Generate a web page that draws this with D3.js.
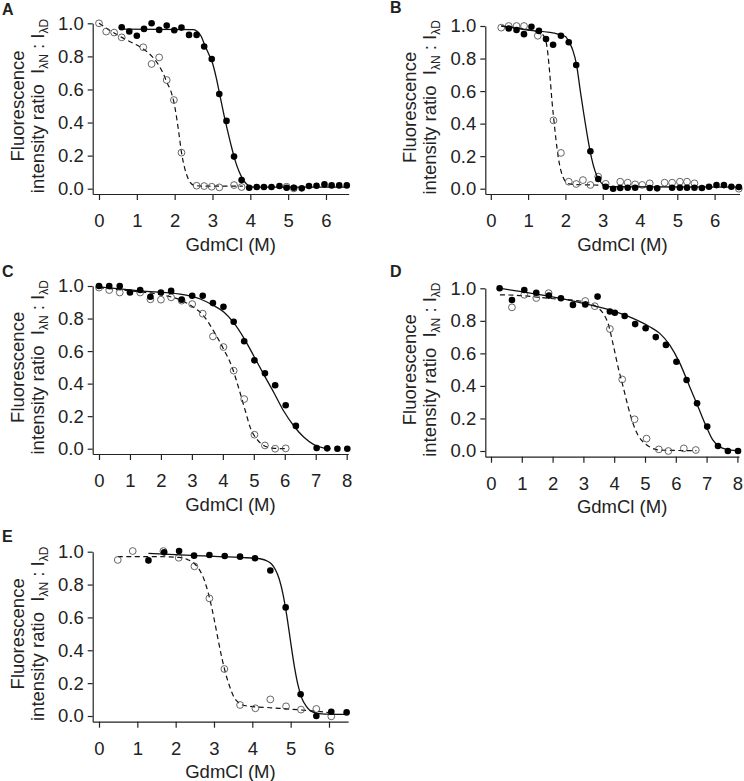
<!DOCTYPE html>
<html lang="en">
<head>
<meta charset="UTF-8">
<title>GdmCl denaturation curves</title>
<script src="https://d3js.org/d3.v7.min.js"></script>
<style>
  body { margin: 0; background: #fff; }
  svg text { font-family: "Liberation Sans", Arial, sans-serif; fill: #222; }
</style>
</head>
<body>
<svg id="chart" width="744" height="781"></svg>
<script>
// values: [GdmCl (M), I_λN : I_λD]
const aFilled = [[0.6,0.976],[0.8,0.95],[1.0,0.925],[1.19,0.966],[1.39,1.0],[1.59,0.96],[1.79,0.986],[1.99,0.958],[2.18,0.974],[2.38,0.93],[2.58,0.93],[2.78,0.86],[2.98,0.784],[3.18,0.573],[3.37,0.41],[3.57,0.194],[3.77,0.052],[3.97,0.006],[4.17,0.01],[4.36,0.01],[4.56,0.01],[4.77,0.016],[4.96,0.006],[5.15,0.006],[5.36,0.002],[5.55,0.016],[5.75,0.018],[5.96,0.026],[6.15,0.02],[6.35,0.02],[6.55,0.02]];
const aOpen = [[0,1.0],[0.19,0.95],[0.4,0.944],[0.6,0.915],[1.17,0.855],[1.39,0.754],[1.59,0.794],[1.79,0.657],[1.98,0.536],[2.18,0.218],[2.58,0.018],[2.78,0.016],[2.98,0.012],[3.18,0.008],[3.57,0.022],[3.77,0.01],[4.96,0.012],[5.15,0.002]];
const aSolid = [[0.6,0.965],[2.5,0.962],[2.6,0.95],[2.7,0.922],[2.8,0.865],[2.9,0.815],[3.0,0.76],[3.1,0.67],[3.2,0.56],[3.3,0.45],[3.4,0.35],[3.5,0.255],[3.6,0.17],[3.7,0.105],[3.8,0.058],[3.9,0.028],[4.0,0.013],[4.1,0.01],[6.6,0.01]];
const aDashed = [[0,1.0],[0.3,0.955],[0.6,0.915],[0.9,0.88],[1.17,0.845],[1.4,0.8],[1.57,0.75],[1.7,0.695],[1.8,0.64],[1.9,0.59],[2.0,0.5],[2.1,0.355],[2.18,0.22],[2.27,0.12],[2.38,0.05],[2.5,0.022],[2.7,0.016],[3.8,0.015]];

const bFilled = [[0.48,0.985],[0.69,0.975],[0.89,0.95],[1.09,0.995],[1.29,0.97],[1.48,0.92],[1.67,0.885],[1.88,0.94],[2.09,0.9],[2.29,0.76],[2.67,0.23],[2.88,0.06],[3.08,0.012],[3.28,0.0],[3.47,0.004],[3.67,0.006],[3.87,0.006],[4.26,0.004],[4.46,0.002],[4.86,0.006],[5.07,0.006],[5.26,0.006],[5.46,0.006],[5.66,0.004],[5.85,0.012],[6.05,0.022],[6.25,0.022],[6.45,0.012],[6.65,0.01]];
const bOpen = [[0.28,0.99],[0.48,1.0],[0.69,1.0],[0.89,1.0],[1.26,0.94],[1.68,0.42],[1.88,0.22],[2.09,0.043],[2.29,0.029],[2.47,0.053],[2.67,0.023],[2.88,0.074],[3.08,0.03],[3.47,0.043],[3.67,0.037],[3.87,0.027],[4.06,0.023],[4.26,0.033],[4.66,0.037],[4.86,0.037],[5.07,0.043],[5.26,0.043],[5.46,0.033],[6.65,0.0]];
const bSolid = [[0.28,1.0],[1.0,0.975],[1.8,0.95],[2.0,0.935],[2.1,0.9],[2.2,0.85],[2.3,0.76],[2.4,0.6],[2.5,0.45],[2.6,0.31],[2.7,0.19],[2.8,0.105],[2.9,0.055],[3.0,0.028],[3.1,0.016],[3.2,0.012],[6.65,0.01]];
const bDashed = [[0.28,1.0],[0.8,0.985],[1.2,0.965],[1.4,0.945],[1.47,0.915],[1.53,0.83],[1.58,0.71],[1.64,0.54],[1.71,0.38],[1.78,0.24],[1.85,0.14],[1.92,0.08],[2.0,0.045],[2.1,0.03],[2.3,0.025],[3.1,0.022]];

const cFilled = [[0,1.0],[0.33,1.0],[0.67,1.0],[1.0,0.96],[1.33,0.975],[1.66,0.934],[2.0,0.96],[2.33,0.97],[2.67,0.916],[3.01,0.94],[3.35,0.94],[3.68,0.895],[4.02,0.872],[4.35,0.78],[4.69,0.66],[5.02,0.543],[5.36,0.463],[5.69,0.39],[6.03,0.267],[6.36,0.14],[7.03,0.004],[7.37,0.002],[7.7,0.0],[8.02,0.0]];
const cOpen = [[0,0.99],[0.33,0.975],[0.67,0.96],[1.33,0.96],[1.66,0.918],[2.0,0.916],[2.33,0.93],[2.67,0.91],[3.01,0.889],[3.35,0.83],[3.68,0.69],[4.02,0.625],[4.35,0.48],[4.69,0.305],[5.02,0.086],[5.36,0.02],[5.69,0.0],[6.03,0.002]];
const cSolid = [[0,0.995],[1.33,0.97],[2.62,0.95],[3.27,0.92],[3.7,0.88],[4.03,0.84],[4.35,0.775],[4.68,0.68],[5.0,0.57],[5.32,0.457],[5.65,0.344],[5.97,0.23],[6.3,0.138],[6.62,0.07],[6.94,0.025],[7.27,0.004],[7.48,0.0]];
const cDashed = [[0,0.99],[1.0,0.97],[2.0,0.946],[2.68,0.91],[3.06,0.868],[3.38,0.817],[3.7,0.724],[4.03,0.61],[4.3,0.5],[4.51,0.374],[4.73,0.23],[4.89,0.128],[5.11,0.056],[5.32,0.02],[5.59,0.004],[6.03,0.0]];

const dFilled = [[0.28,1.0],[0.68,0.928],[1.08,0.99],[1.47,0.973],[1.88,0.955],[2.27,0.939],[2.66,0.898],[3.06,0.9],[3.46,0.949],[3.86,0.857],[4.02,0.85],[4.34,0.83],[4.68,0.78],[5.02,0.754],[5.35,0.7],[5.68,0.652],[6.02,0.549],[6.35,0.436],[6.69,0.293],[7.02,0.15],[7.37,0.031],[7.69,0.0],[8.02,0.0]];
const dOpen = [[0.68,0.883],[1.08,0.96],[1.47,0.94],[1.87,0.97],[3.06,0.922],[3.37,0.89],[3.86,0.75],[4.26,0.44],[4.66,0.195],[5.05,0.076],[5.45,0.01],[5.76,0.0],[6.26,0.016],[6.65,0.006]];
const dSolid = [[0.28,1.0],[0.82,0.984],[1.9,0.95],[2.99,0.908],[3.85,0.867],[4.61,0.815],[5.15,0.764],[5.48,0.723],[5.8,0.652],[6.13,0.54],[6.45,0.395],[6.72,0.273],[6.99,0.15],[7.2,0.068],[7.42,0.027],[7.64,0.01],[7.97,0.002]];
const dDashed = [[0.29,0.96],[0.82,0.957],[1.9,0.938],[2.99,0.918],[3.42,0.887],[3.64,0.846],[3.8,0.785],[3.96,0.66],[4.12,0.52],[4.29,0.395],[4.45,0.273],[4.61,0.17],[4.77,0.098],[4.99,0.047],[5.2,0.02],[5.48,0.006],[6.67,0.002]];

const eFilled = [[1.29,0.947],[1.7,0.996],[2.09,1.004],[2.48,0.976],[2.88,0.98],[3.28,0.974],[3.68,0.97],[4.07,0.96],[4.47,0.886],[4.87,0.661],[5.26,0.132],[5.67,0.0],[6.06,0.026],[6.46,0.022]];
const eOpen = [[0.49,0.95],[0.88,1.004],[1.68,1.004],[2.08,0.963],[2.49,0.911],[2.88,0.716],[3.27,0.286],[3.68,0.067],[4.08,0.047],[4.47,0.101],[4.88,0.059],[5.27,0.039],[5.67,0.043],[6.06,-0.002]];
const eSolid = [[1.29,0.99],[2.4,0.978],[3.7,0.965],[4.2,0.957],[4.4,0.942],[4.5,0.925],[4.6,0.892],[4.7,0.835],[4.8,0.742],[4.9,0.61],[5.0,0.45],[5.1,0.298],[5.2,0.18],[5.3,0.104],[5.4,0.062],[5.5,0.035],[5.6,0.022],[5.8,0.013],[6.46,0.01]];
const eDashed = [[0.49,0.97],[1.5,0.97],[2.1,0.965],[2.3,0.953],[2.5,0.925],[2.6,0.897],[2.7,0.855],[2.8,0.79],[2.9,0.703],[3.0,0.594],[3.1,0.474],[3.2,0.36],[3.3,0.262],[3.4,0.186],[3.5,0.125],[3.6,0.09],[3.7,0.072],[3.9,0.06],[4.5,0.05],[5.2,0.038],[5.7,0.028],[6.03,0.02]];

const yTicks = [0, 0.2, 0.4, 0.6, 0.8, 1.0];
const xTicksShort = [0, 1, 2, 3, 4, 5, 6];
const xTicksLong = [0, 1, 2, 3, 4, 5, 6, 7, 8];
const panelLabels = ["A", "B", "C", "D", "E"];

// layout per panel (pixels)
const panels = [
  { label: panelLabels[0], filled: aFilled, open: aOpen, solid: aSolid, dashed: aDashed, xTicks: xTicksShort,
    left: 92.7, top: 23.3, zero: 188.7, axisY: 194, x0: 99, pxPerM: 37.83, xEnd: 6.6, lx: 2, ly: 15 },
  { label: panelLabels[1], filled: bFilled, open: bOpen, solid: bSolid, dashed: bDashed, xTicks: xTicksShort,
    left: 485.3, top: 26, zero: 188.7, axisY: 194, x0: 490.8, pxPerM: 37.3, xEnd: 6.67, lx: 390, ly: 13 },
  { label: panelLabels[2], filled: cFilled, open: cOpen, solid: cSolid, dashed: cDashed, xTicks: xTicksLong,
    left: 92.7, top: 286, zero: 448.7, axisY: 454, x0: 99, pxPerM: 30.96, xEnd: 8.05, lx: 2, ly: 277 },
  { label: panelLabels[3], filled: dFilled, open: dOpen, solid: dSolid, dashed: dDashed, xTicks: xTicksLong,
    left: 485.3, top: 288.3, zero: 451, axisY: 456.7, x0: 491, pxPerM: 30.8, xEnd: 8.05, lx: 390, ly: 277 },
  { label: panelLabels[4], filled: eFilled, open: eOpen, solid: eSolid, dashed: eDashed, xTicks: xTicksShort,
    left: 92.7, top: 551.7, zero: 716, axisY: 721.7, x0: 99, pxPerM: 38.33, xEnd: 6.5, lx: 2, ly: 542 }
];

const svg = d3.select("#chart");
const fontSize = 18.5;

panels.forEach(p => {
  const xLo = (p.left - p.x0) / p.pxPerM;
  const x = d3.scaleLinear().domain([xLo, p.xEnd]).range([p.left, p.x0 + p.xEnd * p.pxPerM]);
  const yLo = -(p.axisY - p.zero) / (p.zero - p.top);
  const y = d3.scaleLinear().domain([yLo, 1]).range([p.axisY, p.top]);

  const g = svg.append("g");

  const yAxis = g.append("g")
    .attr("transform", `translate(${p.left},0)`)
    .call(d3.axisLeft(y).tickValues(yTicks).tickFormat(d3.format(".1f"))
      .tickSize(5).tickSizeOuter(0).tickPadding(4));
  const xAxis = g.append("g")
    .attr("transform", `translate(0,${p.axisY})`)
    .call(d3.axisBottom(x).tickValues(p.xTicks).tickFormat(d3.format("d"))
      .tickSize(6).tickSizeOuter(0).tickPadding(14));

  [yAxis, xAxis].forEach(a => {
    a.attr("font-size", null).attr("font-family", null);
    a.selectAll("path, line").attr("stroke", "#222").attr("stroke-width", 1.2);
    a.selectAll("text").style("font-size", fontSize + "px").attr("fill", "#222");
  });

  const line = d3.line().x(d => x(d[0])).y(d => y(d[1])).curve(d3.curveMonotoneX);

  g.append("path").datum(p.dashed)
    .attr("d", line).attr("fill", "none")
    .attr("stroke", "#111").attr("stroke-width", 1.2).attr("stroke-dasharray", "5,3.5");

  g.append("g").selectAll("circle").data(p.open).join("circle")
    .attr("cx", d => x(d[0])).attr("cy", d => y(d[1])).attr("r", 3.4)
    .attr("fill", "none").attr("stroke", "#555").attr("stroke-width", 0.9);

  g.append("path").datum(p.solid)
    .attr("d", line).attr("fill", "none")
    .attr("stroke", "#111").attr("stroke-width", 1.3);

  g.append("g").selectAll("circle").data(p.filled).join("circle")
    .attr("cx", d => x(d[0])).attr("cy", d => y(d[1])).attr("r", 3.3)
    .attr("fill", "#000");

  // axis titles
  const midY = y(0.5);
  g.append("text")
    .attr("transform", `translate(${p.left - 69.2},${midY}) rotate(-90)`)
    .attr("text-anchor", "middle").style("font-size", fontSize + "px")
    .text("Fluorescence");

  const t2 = g.append("text")
    .attr("transform", `translate(${p.left - 49.2},${midY}) rotate(-90)`)
    .attr("text-anchor", "middle").style("font-size", fontSize + "px");
  t2.append("tspan").text("intensity ratio\u00a0\u00a0I");
  t2.append("tspan").attr("dy", 4).style("font-size", "12px").text("\u03bbN");
  t2.append("tspan").attr("dy", -4).text("\u00a0:\u00a0I");
  t2.append("tspan").attr("dy", 4).style("font-size", "12px").text("\u03bbD");

  g.append("text")
    .attr("x", (p.left + x.range()[1]) / 2 + 10)
    .attr("y", p.axisY + 56.7)
    .attr("text-anchor", "middle").style("font-size", fontSize + "px")
    .text("GdmCl (M)");

  g.append("text")
    .attr("x", p.lx).attr("y", p.ly)
    .style("font-size", "16px").style("font-weight", "bold").attr("fill", "#000")
    .text(p.label);
});
</script>
</body>
</html>
